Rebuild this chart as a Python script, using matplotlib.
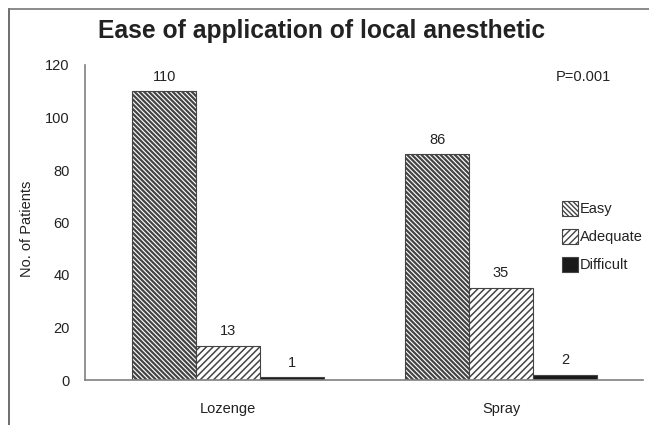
import matplotlib
matplotlib.use("Agg")
import matplotlib.pyplot as plt
from matplotlib.lines import Line2D
import numpy as np

categories = ["Lozenge", "Spray"]
series_names = ["Easy", "Adequate", "Difficult"]
easy = [110, 86]
adequate = [13, 35]
difficult = [1, 2]
yticks = [0, 20, 40, 60, 80, 100, 120]

plt.rcParams['font.family'] = ['Liberation Sans', 'DejaVu Sans']
txt = '#222222'

W, H = 649, 425
fig = plt.figure(figsize=(W/100, H/100), dpi=100)
ax = fig.add_axes([85/W, 1-380/H, (643-85)/W, (380-65)/H])

x = np.arange(len(categories))
w = 0.234
styles = [
    dict(values=easy, hatch='\\' * 7, fc='white', hlw=1.6),
    dict(values=adequate, hatch='/' * 5, fc='white', hlw=1.1),
    dict(values=difficult, hatch=None, fc='#1a1a1a', hlw=1.0),
]
handles = []
for i, (name, st) in enumerate(zip(series_names, styles)):
    plt.rcParams['hatch.linewidth'] = st['hlw']
    plt.rcParams['hatch.color'] = '#111111'
    bars = ax.bar(x + (i-1)*w, st['values'], w, color=st['fc'], edgecolor='#444444',
                  hatch=st['hatch'], linewidth=0.8, label=name)
    handles.append(bars)
    for xi, v in zip(x + (i-1)*w, st['values']):
        ax.annotate(str(v), (xi, v), xytext=(0, 5.5), textcoords='offset points',
                    ha='center', va='bottom', fontsize=10.5, color=txt)

ax.set_xlim(-0.524, 1.52)
ax.set_ylim(0, 120)
ax.set_yticks(yticks)
ax.set_yticklabels([str(t) for t in yticks], fontsize=10.5, color=txt)
ax.set_xticks(x)
ax.set_xticklabels(categories, fontsize=10.5, color=txt)
ax.tick_params(axis='y', length=0, pad=11)
ax.tick_params(axis='x', length=0, pad=16)
for s in ['top', 'right']:
    ax.spines[s].set_visible(False)
for s in ['left', 'bottom']:
    ax.spines[s].set_color('#808080')
    ax.spines[s].set_linewidth(1.2)

fig.text(27/W, 1-229/H, "No. of Patients", rotation=90, ha='center', va='center',
         fontsize=10.5, color=txt)
fig.text(322/W, 1-31/H, "Ease of application of local anesthetic", ha='center', va='center',
         fontsize=17.7, fontweight='bold', color=txt)
fig.text(583/W, 1-77/H, "P=0.001", ha='center', va='center', fontsize=10.5, color=txt)

leg = ax.legend(handles=handles, loc='upper left', bbox_to_anchor=(562/W, 1-201/H),
                bbox_transform=fig.transFigure, frameon=False, fontsize=10.5,
                handlelength=1.1, handleheight=1.2, handletextpad=0.1,
                labelspacing=0.85, borderpad=0, borderaxespad=0)
for t in leg.get_texts():
    t.set_color(txt)

# outer frame (partially cropped)
fig.add_artist(Line2D([9/W, 9/W], [0, 1-9/H], transform=fig.transFigure, color='#555555', lw=1.2))
fig.add_artist(Line2D([9/W, 1], [1-9/H, 1-9/H], transform=fig.transFigure, color='#777777', lw=1.2))

fig.savefig("out.png", dpi=100)
